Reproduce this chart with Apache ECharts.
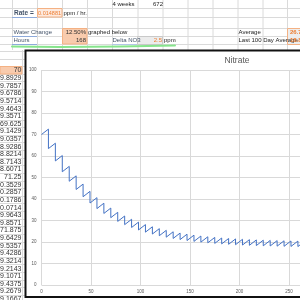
<!DOCTYPE html>
<html>
<head>
<meta charset="utf-8">
<style>
  html, body { margin: 0; padding: 0; background: #fff; }
  #main { width: 300px; height: 300px; }
</style>
<script src="https://cdn.jsdelivr.net/npm/echarts@6/dist/echarts.min.js"></script>
</head>
<body>
<div id="main"></div>
<script>
// start day of each week (water change every 168 hours)
var weekStart = [0, 7, 14, 21, 28, 35, 42, 49, 56, 63, 70, 77, 84, 91, 98, 105, 112, 119, 126, 133, 140,
  147, 154, 161, 168, 175, 182, 189, 196, 203, 210, 217, 224, 231, 238, 245, 252, 259, 266, 273, 280, 287, 294];
// nitrate right after each water change (ppm)
var lowVals = [70, 63.44, 57.70, 52.67, 48.27, 44.43, 41.06, 38.12, 35.54, 33.28, 31.31, 29.59, 28.07, 26.75,
  25.60, 24.58, 23.70, 22.92, 22.25, 21.65, 21.13, 20.68, 20.28, 19.93, 19.63, 19.36, 19.13, 18.93, 18.75,
  18.59, 18.46, 18.34, 18.23, 18.14, 18.06, 17.99, 17.93, 17.88, 17.83, 17.79, 17.75, 17.72, 17.69];
// nitrate just before the next water change (ppm)
var highVals = [72.5, 65.94, 60.20, 55.17, 50.77, 46.93, 43.56, 40.62, 38.04, 35.78, 33.81, 32.09, 30.57, 29.25,
  28.10, 27.08, 26.20, 25.42, 24.75, 24.15, 23.63, 23.18, 22.78, 22.43, 22.13, 21.86, 21.63, 21.43, 21.25,
  21.09, 20.96, 20.84, 20.73, 20.64, 20.56, 20.49, 20.43, 20.38, 20.33, 20.29, 20.25, 20.22, 20.19];
var yTicks = [0, 10, 20, 30, 40, 50, 60, 70, 80, 90, 100];
var xTicks = [0, 50, 100, 150, 200, 250, 300, 350, 400];
// left column of the sheet (only the right end of each number shows)
var sheetCol = ['70', '69.8929', '69.7857', '69.6786', '69.5714', '69.4643', '69.3571', '69.625', '69.1429',
  '69.0357', '68.9286', '68.8214', '68.7143', '68.6071', '71.25', '70.3529', '70.2857', '70.1786', '70.0714',
  '69.9643', '69.8571', '71.875', '69.6429', '69.5357', '69.4286', '69.3214', '69.2143', '69.1071', '69.4375',
  '69.2679', '69.1667'];

var lineData = [];
for (var i = 0; i < weekStart.length; i++) {
  lineData.push([weekStart[i], lowVals[i]]);
  lineData.push([weekStart[i] + 7, highVals[i]]);
}

var font = '"Liberation Sans", Arial, sans-serif';
var gridCol = '#dadada';
var g = [];

function hline(x1, x2, y, c, w) {
  g.push({ type: 'line', z: -5, shape: { x1: x1, y1: y, x2: x2, y2: y }, style: { stroke: c || gridCol, lineWidth: w || 1 } });
}
function vline(x, y1, y2, c) {
  g.push({ type: 'line', z: -5, shape: { x1: x, y1: y1, x2: x, y2: y2 }, style: { stroke: c || gridCol, lineWidth: 1 } });
}
function cell(x, y, w, h, fill, stroke) {
  g.push({ type: 'rect', z: -4, shape: { x: x, y: y, width: w, height: h }, style: { fill: fill, stroke: stroke, lineWidth: 1 } });
}
function txt(s, x, y, c, align, bold, size, z) {
  g.push({ type: 'text', z: z || -3, x: x, y: y, style: {
    text: s, fill: c || '#222', font: (bold ? 'bold ' : '') + (size || 6) + 'px ' + font,
    textAlign: align || 'left', textVerticalAlign: 'middle' } });
}

// sheet grid, top part
var cols = [12, 37, 62, 87, 112, 137.5, 162.5, 187.5, 212.5, 237.5, 262.5, 287];
cols.forEach(function (x) { vline(x + 0.5, 0, 50); });
[8.5, 17.5, 28.5, 36.5, 44.5].forEach(function (y) { hline(0, 300, y); });
// sheet grid, left strip
vline(22.5, 50, 300);
for (var r = 0; r < 33; r++) hline(0, 25, Math.round(51 + r * 7.62) + 0.5);

// cells of the top part
cell(37.5, 8.5, 24.5, 8.5, '#fdeadf', '#f4b183');
cell(62.5, 28.5, 24.5, 15.5, '#f8cbad', '#f4b183');
cell(137.5, 36.5, 25, 8, '#ececec', '#c9c9c9');
cell(287.5, 28.5, 14, 16, '#ededed', '#f4b183');
hline(12, 37, 17.5, '#8eaadb', 1);
hline(12, 37, 36.5, '#8eaadb', 1);
hline(12, 37, 44.5, '#8eaadb', 1);
hline(112, 137, 44.5, '#b4c6e7', 1);

txt('Rate =', 14, 13, '#44546a', 'left', true, 6.5);
txt('0.014881', 61, 13, '#ed7d31', 'right', false, 5.5);
txt('ppm / hr.', 63.5, 13, '#222', 'left', false, 6);
txt('4 weeks', 112.5, 4, '#222', 'left', false, 6);
txt('672', 153, 4, '#222', 'left', false, 6);
txt('Water Change', 13.5, 32.5, '#44546a', 'left', false, 6);
txt('12.50%', 86, 32.5, '#333', 'right', false, 6);
txt('graphed below', 88, 32.5, '#222', 'left', false, 6);
txt('Hours', 13.5, 40.5, '#44546a', 'left', false, 6);
txt('168', 86, 40.5, '#333', 'right', false, 6);
txt('Delta NO3', 112.5, 40.5, '#44546a', 'left', false, 6);
txt('2.5', 162, 40.5, '#ed7d31', 'right', false, 6);
txt('ppm', 164, 40.5, '#222', 'left', false, 6);
txt('Average', 238.5, 32.5, '#222', 'left', false, 6);
txt('Last 100 Day Average', 238.5, 40.5, '#222', 'left', false, 6);
txt('26.7158', 290, 32.5, '#ed7d31', 'left', true, 6);
txt('18.8327', 290, 40.5, '#ed7d31', 'left', true, 6);

// left strip numbers
cell(0, 66.5, 22, 7.5, '#f8cbad', '#f4b183');
sheetCol.forEach(function (s, k) { txt(s, 21.5, 70.5 + k * 7.62, '#333', 'right', false, 7); });

// green highlighter stroke
g.push({ type: 'polyline', z: -2, shape: { points: [[12, 46.5], [60, 47], [120, 46.5], [175, 45.5]] },
  style: { stroke: '#86e58c', lineWidth: 2, lineCap: 'round' } });

// chart frame
g.push({ type: 'rect', z: -1, shape: { x: 25.5, y: 50.5, width: 420, height: 246.5 },
  style: { fill: '#ffffff', stroke: '#111', lineWidth: 2 } });
txt('Nitrate', 237, 61, '#595959', 'center', false, 8.5, 1);

var myChart = echarts.init(document.getElementById('main'));

var option = {
  animation: false,
  graphic: g,
  grid: { left: 41.5, top: 70, width: 396, height: 215, outerBoundsMode: 'none', containLabel: false },
  xAxis: {
    type: 'value', min: 0, max: 400, interval: 50,
    axisLine: { show: false }, axisTick: { show: false },
    axisLabel: { color: '#595959', fontSize: 4.5, fontFamily: font, margin: 4,
      formatter: function (v) { return xTicks.indexOf(v) >= 0 ? v : ''; } },
    splitLine: { lineStyle: { color: '#d9d9d9', width: 1 } }
  },
  yAxis: {
    type: 'value', min: 0, max: 100, interval: 10,
    axisLine: { show: false }, axisTick: { show: false },
    axisLabel: { color: '#595959', fontSize: 4.5, fontFamily: font, margin: 5,
      formatter: function (v) { return yTicks.indexOf(v) >= 0 ? v : ''; } },
    splitLine: { lineStyle: { color: '#d9d9d9', width: 1 } }
  },
  series: [{
    name: 'Nitrate',
    type: 'line',
    data: lineData,
    showSymbol: false,
    lineStyle: { color: '#4472c4', width: 1 }
  }]
};

myChart.setOption(option);
</script>
</body>
</html>
